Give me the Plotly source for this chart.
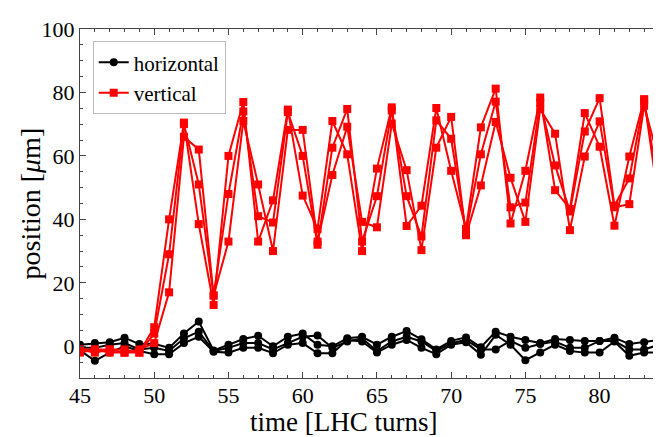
import plotly.graph_objects as go

turns = list(range(45, 85))

vertical_a = [-1, -2, -1, -2, -2, 6, 40, 70.5, 38.5, 13, 60, 77, 33, 46, 74.6, 47.5, 37, 71, 60.5, 30,
              56, 75.3, 37.9, 44.3, 75.1, 55.3, 37, 69, 81.2, 38.7, 55.3, 78.4, 49.2, 43.3, 73.5, 62.9, 38, 59.8, 77.9, 44.8]
vertical_b = [-2, -1, -1, -1, -2, 4, 29, 70, 51, 16, 48, 74, 41, 39, 73.8, 60, 32, 62.6, 74.8, 33,
              47.3, 74.3, 47.3, 34.6, 71.2, 65.4, 36, 60.5, 77.1, 43.8, 45.3, 76.9, 57, 42.5, 67.7, 78.2, 44.3, 52.9, 77.4, 49.9]
vertical_c = [-1, -1, -2, -2, -1, 1, 17, 66, 62, 16, 33, 71, 51, 30, 68.2, 68.2, 33, 54, 69.2, 39.2,
              37.5, 70.2, 55.5, 30.3, 62.6, 72.3, 35, 50.7, 70.7, 53.1, 39.2, 74.8, 67, 36.6, 59.8, 70.9, 43.8, 44.8, 75.8, 58.5]

horizontal_a = [0.5, 1, 1.3, 2.7, 0.7, 0.8, -0.5, 4, 7.8, -1.3, 0.5, 2.3, 3.3, 0, 3, 4, 0.5, 0, 2.5, 3,
                0.5, 3, 4.8, 2.2, -1, 1.7, 2.8, -0.3, 4.6, 3, 2, 1, 2.3, 2, 1.7, 1.7, 2.7, 0.7, 1.3, 2]
horizontal_b = [-0.5, -0.5, 0.5, 1, -1, -0.5, -1.5, 2.5, 4.6, -1.5, -0.5, 1, 1, -1, 1, 3, 3.4, -0.5, 1.5, 2.5,
                -1.5, 1.5, 3, 1.5, -1.5, 1, 2, -1, -1, 1.7, -0.5, 0.7, 1.5, -0.5, -0.5, 1.7, 1.7, -1, -1, 0.5]
horizontal_c = [-1.3, -4.6, -2, 0, -1.5, -2.5, -2.5, 1, 3, -1.7, -2, -0.5, -0.5, -2.2, 0.5, 1, -2.2, -2.2, 2, 1.5,
                -2, 0.5, 2, -0.5, -2.5, 0.5, 1.3, -2.7, 3.6, 0.5, -4.4, -2, 0.5, -1.5, -2, -2, 1.5, -3, -2, -2]

x_ticks = [45, 50, 55, 60, 65, 70, 75, 80]
y_ticks = [0, 20, 40, 60, 80, 100]

FONT = "Liberation Serif, Times New Roman, serif"

fig = go.Figure()

for i, ys in enumerate([horizontal_a, horizontal_b, horizontal_c]):
    fig.add_trace(go.Scatter(
        x=turns, y=ys, mode="lines+markers", name="horizontal",
        legendgroup="h", showlegend=(i == 0),
        line=dict(color="black", width=2),
        marker=dict(symbol="circle", size=8, color="black"),
    ))

for i, ys in enumerate([vertical_a, vertical_b, vertical_c]):
    fig.add_trace(go.Scatter(
        x=turns, y=ys, mode="lines+markers", name="vertical",
        legendgroup="v", showlegend=(i == 0),
        line=dict(color="#ff0000", width=2),
        marker=dict(symbol="square", size=8, color="#ff0000"),
    ))

axis_common = dict(
    showgrid=False, zeroline=False, showline=True, linecolor="#444", linewidth=1,
    mirror="allticks", ticks="inside", ticklen=6, tickcolor="#444", tickwidth=1,
    tickfont=dict(family=FONT, size=22, color="black"),
    ticklabeloverflow="allow",
)

fig.update_xaxes(
    range=[45, 84], tickvals=x_ticks, ticklabelstandoff=-2,
    minor=dict(dtick=1, ticks="inside", ticklen=3, tickcolor="#444"),
    **axis_common,
)
fig.update_yaxes(
    range=[-10, 100], tickvals=y_ticks,
    minor=dict(dtick=5, ticks="inside", ticklen=3, tickcolor="#444"),
    **axis_common,
)

# page body adds an 8px offset; margins compensate so the plot area sits where the reference has it
fig.update_layout(
    width=661, height=437,
    margin=dict(l=72, r=9, t=10.5, b=67.4),
    plot_bgcolor="white", paper_bgcolor="white",
    font=dict(family=FONT, color="black"),
    legend=dict(
        x=0.022, y=0.965, xanchor="left", yanchor="top",
        bgcolor="white", bordercolor="#bbb", borderwidth=1,
        font=dict(family=FONT, size=21, color="black"),
        itemwidth=30, tracegroupgap=0,
    ),
    annotations=[
        dict(text="time [LHC turns]", xref="paper", yref="paper", x=0.455, y=0,
             xanchor="center", yanchor="middle", yshift=-44, showarrow=False,
             font=dict(family=FONT, size=27, color="black")),
        dict(text="position [<i>μ</i>m]", xref="paper", yref="paper", x=0, y=0.5,
             xanchor="center", yanchor="middle", xshift=-50, textangle=-90, showarrow=False,
             font=dict(family=FONT, size=28, color="black")),
    ],
)

fig.write_html("out.html")
